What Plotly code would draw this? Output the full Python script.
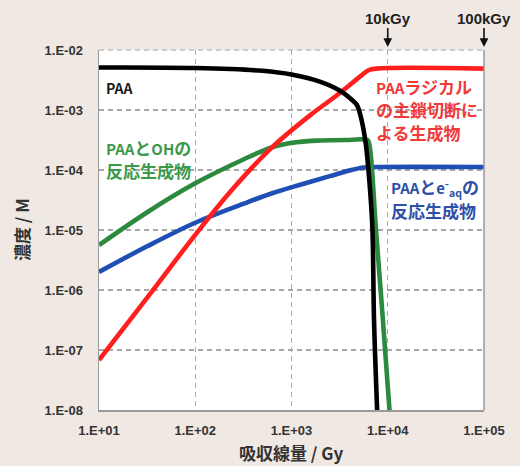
import math
import plotly.graph_objects as go

# Absorbed dose (Gy) and concentration (M)
dose_paa = [10, 100, 500, 1000, 2000, 3200, 4200, 4800, 5400, 5900, 6300, 6900, 7200, 7800]
conc_paa = [5.1e-3, 5.0e-3, 4.5e-3, 3.9e-3, 2.95e-3, 2.1e-3, 1.5e-3, 1.2e-3, 6.3e-4, 2.8e-4, 1.0e-4, 1.26e-5, 3.2e-7, 8e-9]

dose_scission = [10, 32, 100, 250, 630, 1580, 3160, 5250, 6300, 7600, 100000]
conc_scission = [6.8e-8, 7.6e-7, 8.3e-6, 5.0e-5, 2.4e-4, 8.3e-4, 1.9e-3, 3.7e-3, 4.6e-3, 4.9e-3, 4.9e-3]

dose_oh = [10, 32, 100, 320, 630, 1120, 2000, 4000, 6150, 6450, 7550, 8900, 10700]
conc_oh = [5.6e-6, 2.0e-5, 6.0e-5, 1.51e-4, 2.4e-4, 2.9e-4, 3.1e-4, 3.16e-4, 3.16e-4, 2.6e-4, 1.0e-5, 3.2e-7, 5.6e-9]

dose_eaq = [10, 32, 100, 320, 630, 1260, 2500, 4000, 5600, 7900, 100000]
conc_eaq = [2.0e-6, 5.4e-6, 1.32e-5, 2.75e-5, 4.1e-5, 5.75e-5, 7.9e-5, 9.8e-5, 1.1e-4, 1.12e-4, 1.12e-4]

x_tickvals = [10, 100, 1000, 10000, 100000]
x_ticktext = ["1.E+01", "1.E+02", "1.E+03", "1.E+04", "1.E+05"]
y_tickvals = [1e-8, 1e-7, 1e-6, 1e-5, 1e-4, 1e-3, 1e-2]
y_ticktext = ["1.E-08", "1.E-07", "1.E-06", "1.E-05", "1.E-04", "1.E-03", "1.E-02"]

marker_doses = [10000, 100000]
marker_labels = ["10kGy", "100kGy"]

BLACK = "#000000"
RED = "#ff1f1f"
GREEN = "#2b8a3e"
BLUE = "#1f4fb4"
JP = "Noto Sans CJK JP"
LAT = "Liberation Sans"

fig = go.Figure()
series = [
    (dose_eaq, conc_eaq, BLUE, "PAAとe-aqの反応生成物"),
    (dose_oh, conc_oh, GREEN, "PAAとOHの反応生成物"),
    (dose_scission, conc_scission, RED, "PAAラジカルの主鎖切断による生成物"),
    (dose_paa, conc_paa, BLACK, "PAA"),
]
for xs, ys, col, name in series:
    fig.add_trace(go.Scatter(x=xs, y=ys, mode="lines", name=name,
                             line=dict(color=col, width=4.6, shape="spline", smoothing=1.0),
                             showlegend=False, hoverinfo="skip"))

grid = dict(showgrid=True, gridcolor="#a8a8a8", gridwidth=1.2, griddash="5px,4px",
            ticks="", zeroline=False)
tick_font = dict(family=LAT, size=13, color="#333333", weight="bold")
fig.update_xaxes(type="log", range=[1, 5], tickvals=x_tickvals, ticktext=x_ticktext,
                 showline=True, linecolor="#9a9a9a", linewidth=2,
                 tickfont=tick_font, ticklabelstandoff=7, **grid)
fig.update_yaxes(type="log", range=[-8, -2], tickvals=y_tickvals, ticktext=y_ticktext,
                 showline=True, linecolor="#9a9a9a", linewidth=1.5,
                 tickfont=tick_font, ticklabelstandoff=12, **grid)

# plot frame: dashed top, solid right
fig.add_shape(type="line", xref="paper", yref="paper", x0=0, x1=1, y0=1, y1=1,
              line=dict(color="#a8a8a8", width=1.2, dash="5px,4px"))
fig.add_shape(type="line", xref="paper", yref="paper", x0=1, x1=1, y0=0, y1=1,
              line=dict(color="#9a9a9a", width=1.5))

ann = []
W, H = 385.0, 360.0
def px(xp, yp):
    return (xp - 99) / W, (410 - yp) / H

def lat(s):
    return '<span style="font-size:15px">%s</span>' % s

def label(text, pos, color, size=17):
    ann.append(dict(text="<b>%s</b>" % text, xref="paper", yref="paper", x=pos[0], y=pos[1],
                    xanchor="left", yanchor="middle", showarrow=False,
                    font=dict(family=JP, size=size, color=color)))

label("PAA", px(104, 88), "#1a1a1a", size=14)
label(lat("PAA") + "と" + lat("OH") + "の", px(104, 147), "#3a9a4a")
label("反応生成物", px(104, 170), "#3a9a4a")
label(lat("PAA") + "ラジカル", px(374, 87), "#f03a3a")
label("の主鎖切断に", px(374, 110), "#f03a3a")
label("よる生成物", px(374, 132), "#f03a3a")
label(lat("PAA") + "と" + lat("e<sup>-</sup><sub>aq</sub>") + "の", px(389, 187), "#2f50a8")
label("反応生成物", px(389, 210), "#2f50a8")

for d, t in zip(marker_doses, marker_labels):
    ann.append(dict(text="<b>%s</b>" % t, x=math.log10(d), xref="x", xanchor="center",
                    y=1 + 3 / H, yref="paper", ax=0, ay=-29,
                    showarrow=True, arrowhead=2, arrowsize=1.1, arrowwidth=1.6,
                    arrowcolor="#111111", standoff=0,
                    font=dict(family=LAT, size=15, color="#222222")))

# axis titles
ann.append(dict(text="<b>吸収線量 / Gy</b>", xref="paper", yref="paper",
                x=(291 - 99) / W, y=(410 - 452) / H, showarrow=False,
                xanchor="center", yanchor="middle",
                font=dict(family=JP, size=17, color="#333333")))
ann.append(dict(text="<b>濃度 / M</b>", xref="paper", yref="paper",
                x=(21 - 99) / W, y=(410 - 230) / H, showarrow=False, textangle=-90,
                xanchor="center", yanchor="middle",
                font=dict(family=JP, size=17, color="#333333")))

fig.update_layout(width=520, height=466,
                  margin=dict(l=99, r=36, t=50, b=56),
                  paper_bgcolor="#efe8e3", plot_bgcolor="#ffffff",
                  annotations=ann, showlegend=False, hovermode=False)

fig.write_html("out.html", config={"displayModeBar": False, "staticPlot": True},
               post_script="document.body.style.margin='0';")
